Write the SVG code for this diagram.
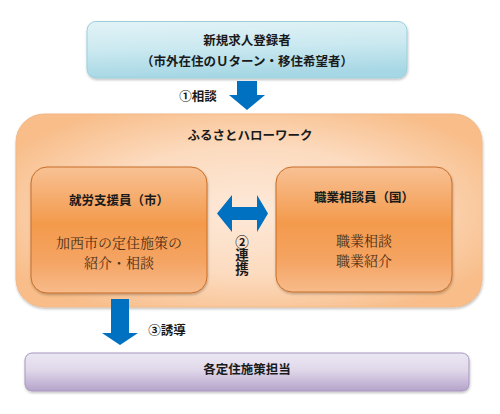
<svg xmlns="http://www.w3.org/2000/svg" width="500" height="414" viewBox="0 0 500 414">
<defs>
<linearGradient id="gTop" x1="0" y1="0" x2="0.15" y2="1">
<stop offset="0" stop-color="#e2f3f7"/>
<stop offset="0.5" stop-color="#cbe9f0"/>
<stop offset="1" stop-color="#a6d7e4"/>
</linearGradient>
<linearGradient id="gBot" x1="0" y1="0" x2="0" y2="1">
<stop offset="0" stop-color="#ece7f3"/>
<stop offset="0.45" stop-color="#e0d8ea"/>
<stop offset="1" stop-color="#b4a3ca"/>
</linearGradient>
<radialGradient id="gBig" cx="0.5" cy="0.5" r="0.6">
<stop offset="0" stop-color="#fde9d9"/>
<stop offset="0.55" stop-color="#fcdbbf"/>
<stop offset="1" stop-color="#f8bd89"/>
</radialGradient>
<linearGradient id="gIn" x1="0" y1="0" x2="0" y2="1">
<stop offset="0" stop-color="#f8c194"/>
<stop offset="0.45" stop-color="#f39a4c"/>
<stop offset="0.75" stop-color="#f5a463"/>
<stop offset="1" stop-color="#f7bb8a"/>
</linearGradient>
<filter id="sh" x="-5%" y="-5%" width="110%" height="115%">
<feDropShadow dx="0.5" dy="1.5" stdDeviation="1" flood-color="#000" flood-opacity="0.25"/>
</filter>
</defs>
<style>
.t{font-family:"Noto Sans CJK JP","Noto Sans CJK SC",sans-serif;font-weight:bold;font-size:12.5px;fill:#1a1a1a;text-anchor:middle}
.m{font-family:"Noto Serif CJK JP","Noto Sans CJK JP",serif;font-size:14px;fill:#4e3016;text-anchor:middle}
.v{font-family:"Noto Sans CJK JP","Noto Sans CJK SC",sans-serif;font-weight:bold;font-size:13.5px;fill:#1a1a1a;writing-mode:vertical-rl}
.arr{fill:#0070c0}
</style>
<g id="node-top">
<rect x="87" y="21.5" width="320" height="56.5" rx="9" fill="url(#gTop)" stroke="#9ccfdc" stroke-width="1" filter="url(#sh)"/>
<text class="t" x="247" y="45">新規求人登録者</text>
<text class="t" x="247" y="66">（市外在住のＵターン・移住希望者）</text>
</g>
<g id="node-hellowork">
<rect x="16" y="114" width="466" height="193" rx="28" fill="url(#gBig)" stroke="#f2b887" stroke-width="1" filter="url(#sh)"/>
<text class="t" x="250" y="140">ふるさとハローワーク</text>
</g>
<g id="node-left">
<rect x="31" y="167" width="176" height="126" rx="16" fill="url(#gIn)" stroke="#c86e28" stroke-width="1" filter="url(#sh)"/>
<text class="t" x="119" y="205">就労支援員（市）</text>
<text class="m" x="119" y="248">加西市の定住施策の</text>
<text class="m" x="119" y="268">紹介・相談</text>
</g>
<g id="node-right">
<rect x="276" y="167" width="176" height="125" rx="16" fill="url(#gIn)" stroke="#c86e28" stroke-width="1" filter="url(#sh)"/>
<text class="t" x="364" y="202">職業相談員（国）</text>
<text class="m" x="364" y="246">職業相談</text>
<text class="m" x="364" y="266">職業紹介</text>
</g>
<g id="node-bottom">
<rect x="25" y="353" width="444" height="38" rx="7" fill="url(#gBot)" stroke="#a897c0" stroke-width="1" filter="url(#sh)"/>
<text class="t" x="247" y="374">各定住施策担当</text>
</g>
<g id="connectors">
<polygon class="arr" points="237,81 257,81 257,95 265,95 247,110 229,95 237,95"/>
<text class="t" x="198" y="101">①相談</text>
<polygon class="arr" points="217,213.5 232,195 232,207 257,207 257,195 268,213.5 257,232 257,220 232,220 232,232"/>
<text class="v" x="242" y="235">②連携</text>
<polygon class="arr" points="111,299 129,299 129,333 138,333 120,345 102,333 111,333"/>
<text class="t" x="167" y="335">③誘導</text>
</g>
</svg>
